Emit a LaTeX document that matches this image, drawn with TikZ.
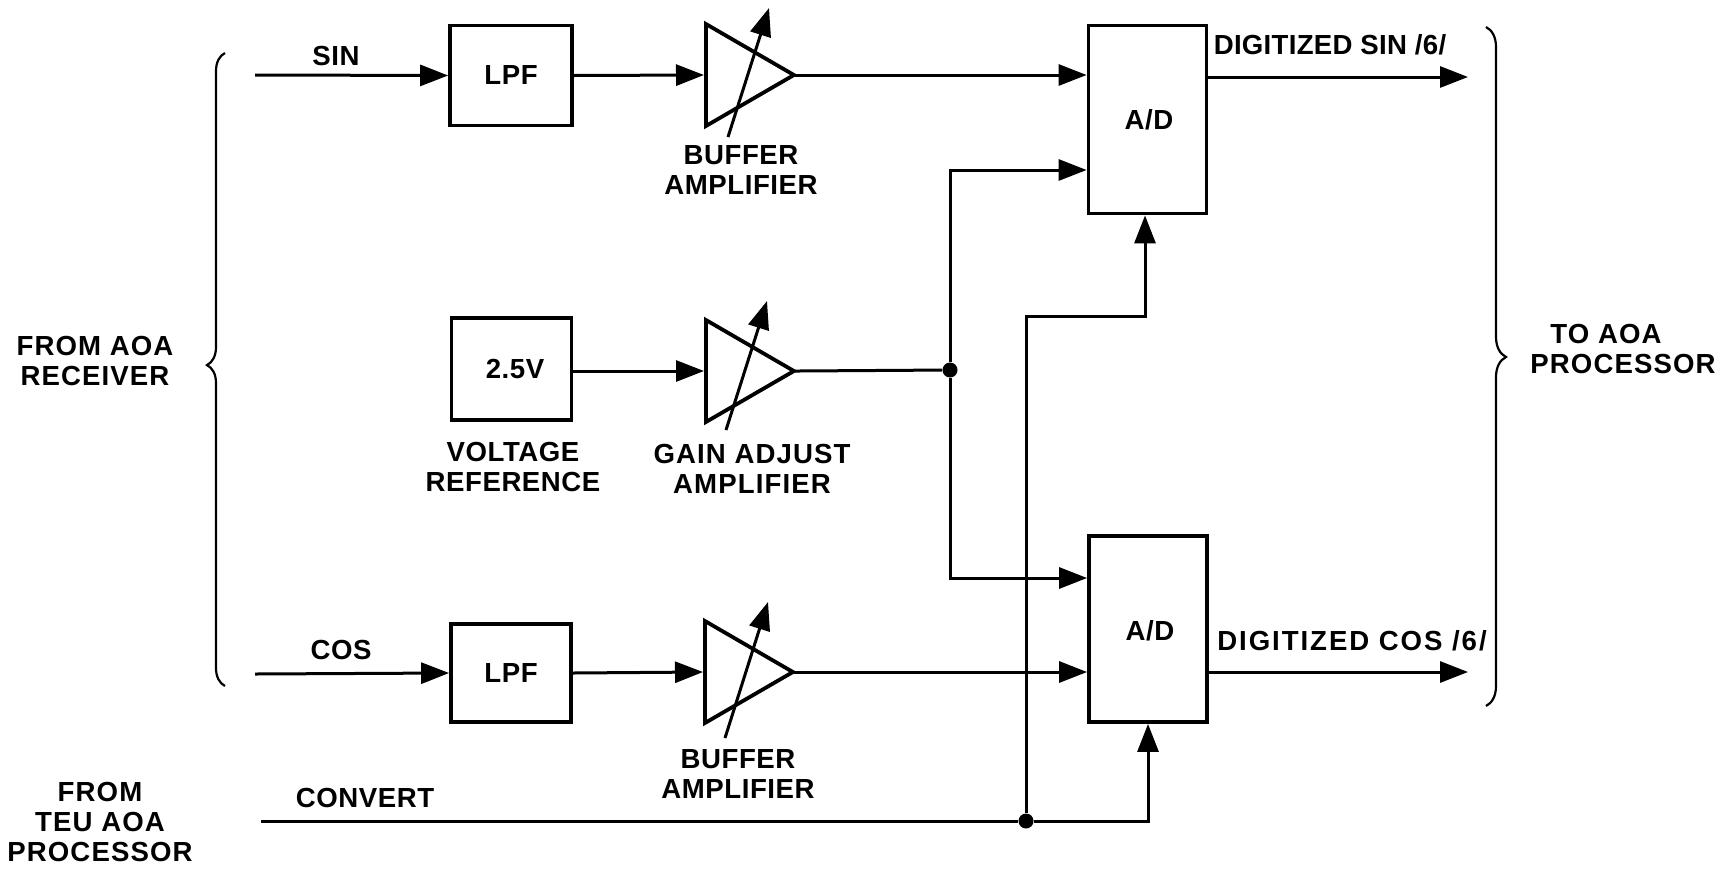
\documentclass[tikz,border=0pt]{standalone}
\usepackage{fontspec}
\setmainfont{Liberation Sans}
\usetikzlibrary{arrows.meta,shapes.geometric,decorations.pathreplacing}
\tikzset{
  blockbox/.style={draw,line width=1.9pt,inner sep=0pt,minimum width=#1},
  ampbox/.style={draw,line width=1.9pt,isosceles triangle,isosceles triangle stretches,shape border rotate=0,inner sep=0pt,minimum width=51pt,minimum height=44pt,anchor=west},
  sig/.style={line width=1.5pt,-{Triangle[length=14pt,width=10.5pt]}},
  wire/.style={line width=1.5pt},
  lbl/.style={font=\fontsize{13.8}{15}\selectfont\bfseries\addfontfeature{LetterSpace=2},align=center,inner sep=0pt},
  wide/.style={font=\fontsize{13.8}{15}\selectfont\bfseries\addfontfeature{LetterSpace=#1}},
  dot/.style={circle,fill,inner sep=0pt,minimum size=7.5pt},
  brc/.style={line width=1.1pt,decorate}
}
\begin{document}
\begin{tikzpicture}[x=.5pt,y=-.5pt]
\useasboundingbox (0,0) rectangle (1722,868);
% blocks
\node[blockbox=61pt,minimum height=50pt] (lpfsin) at (511,75.5){};
\node[blockbox=60pt,minimum height=51pt] (ref) at (511.5,369){};
\node[blockbox=60pt,minimum height=49pt] (lpfcos) at (511,673){};
\node[blockbox=59pt,minimum height=94pt] (adsin) at (1147.5,119.5){};
\node[blockbox=59pt,minimum height=93pt] (adcos) at (1148,629){};
\node[ampbox] (ampsin) at (704,75){};
\node[ampbox] (ampref) at (704,371){};
\node[ampbox] (ampcos) at (703,672){};
\node[lbl] at (lpfsin){LPF};
\node[lbl] at (515,369){2.5V};
\node[lbl] at (lpfcos){LPF};
\node[lbl] at (1149,120){A/D};
\node[lbl] at (1150,631){A/D};
% free ends
\coordinate (sinin) at (255,75);
\coordinate (cosin) at (255,674);
\coordinate (convin) at (261,821);
\coordinate (sinout) at (1468,77);
\coordinate (cosout) at (1468,672);
\node[dot] (refdot) at (950,370){};
\node[dot] (convdot) at (1026,821){};
% signal paths
\draw[sig] (sinin)--(lpfsin.west);
\draw[sig] (lpfsin.east)--(ampsin.west);
\draw[sig,shorten <=-2pt] (ampsin.east)--(ampsin.east-|adsin.west);
\draw[sig] (adsin.east|-sinout)--(sinout);
\draw[sig] (ref.east|-ampref.west)--(ampref.west);
\draw[wire,shorten <=-2pt] (ampref.east)--(refdot);
\draw[sig] (refdot)--(950,170)--(adsin.west|-0,170);
\draw[sig] (refdot)--(950,578)--(adcos.west|-0,578);
\draw[sig] (cosin)--(lpfcos.west);
\draw[sig] (lpfcos.east)--(ampcos.west);
\draw[sig,shorten <=-2pt] (ampcos.east)--(ampcos.east-|adcos.west);
\draw[sig] (adcos.east|-cosout)--(cosout);
\draw[wire] (convin)--(convdot);
\draw[sig] (convdot)--(1148,821)--(1148,0|-adcos.south);
\draw[sig] (convdot)--(1026,316)--(1145,316)--(1145,0|-adsin.south);
% gain arrows
\draw[sig] (728,137)--(769,8);
\draw[sig] (726,430)--(767,301);
\draw[sig] (725,738)--(768,602);
% braces
\draw[brc,decoration={brace,amplitude=9pt,aspect=.507}] (225,686)--(225,53);
\draw[brc,decoration={brace,amplitude=10pt,aspect=.486}] (1486,27)--(1486,706);
% labels
\node[lbl] at (336,56){SIN};
\node[lbl] at (341,650){COS};
\node[lbl] at (365,798){CONVERT};
\node[lbl,wide=1] at (1330,45){DIGITIZED SIN /6/};
\node[lbl,wide=7] at (1352,641){DIGITIZED COS /6/};
\node[lbl] at (741,170){BUFFER\\AMPLIFIER};
\node[lbl] at (513,467){VOLTAGE\\REFERENCE};
\node[lbl,wide=4] at (752,469){GAIN ADJUST\\AMPLIFIER};
\node[lbl] at (738,774){BUFFER\\AMPLIFIER};
\node[lbl,wide=4] at (95,361){FROM AOA\\RECEIVER};
\node[lbl,wide=4,align=left] at (1623,349){\hspace*{10pt}TO AOA\\PROCESSOR};
\node[lbl,wide=4] at (100,822){FROM\\TEU AOA\\PROCESSOR};
\end{tikzpicture}
\end{document}
